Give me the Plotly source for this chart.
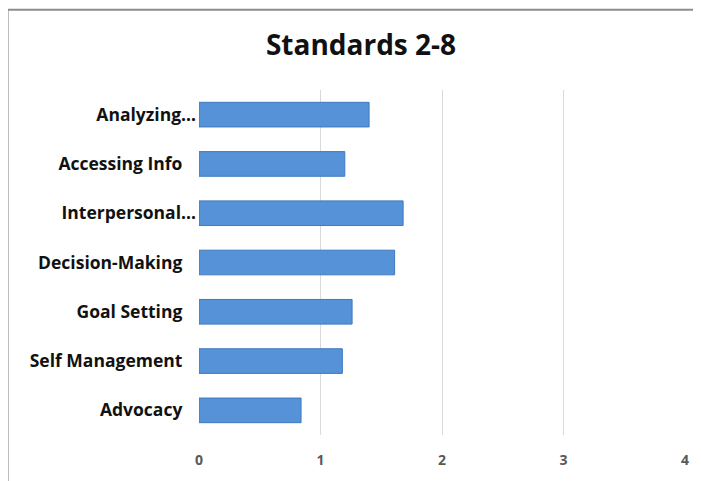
import plotly.graph_objects as go

categories = ["Analyzing...", "Accessing Info", "Interpersonal...", "Decision-Making",
              "Goal Setting", "Self Management", "Advocacy"]
tick_labels = ["Analyzing…", "Accessing Info\u00a0\u00a0\u00a0", "Interpersonal…", "Decision-Making\u00a0\u00a0\u00a0",
               "Goal Setting\u00a0\u00a0\u00a0", "Self Management\u00a0\u00a0\u00a0", "Advocacy\u00a0\u00a0\u00a0"]
values = [1.40, 1.20, 1.68, 1.61, 1.26, 1.18, 0.84]
x_ticks = [0, 1, 2, 3, 4]

# page body has an 8px margin; work in reference pixel coords shifted by it
OFF = 8
W, H = 701 - OFF, 481 - OFF
ML, MR, MT, MB = 199 - OFF, 12, 90 - OFF, 46 - OFF
pw, ph = W - ML - MR, H - MT - MB

def px_to_paper_x(px):
    return (px - OFF - ML) / pw

def px_to_paper_y(py):
    return (H - MB - (py - OFF)) / ph

fig = go.Figure()
fig.add_trace(go.Bar(
    y=categories, x=values, orientation="h",
    marker=dict(color="#5592D8", line=dict(color="#3F79BF", width=1)),
    width=0.5,
))

fig.update_layout(
    width=W, height=H,
    margin=dict(l=ML, r=MR, t=MT, b=MB),
    paper_bgcolor="white", plot_bgcolor="white",
    showlegend=False,
    title=dict(text="Standards 2-8", x=(361 - OFF) / W, xanchor="center", y=1 - (45 - OFF) / H,
               yanchor="middle",
               font=dict(family="Open Sans", size=28, color="#111111", weight="bold")),
    xaxis=dict(range=[0, 4], tickvals=x_ticks, showgrid=True, gridcolor="#D9D9D9", gridwidth=1,
               zeroline=False, showline=False, ticks="",
               tickfont=dict(family="Open Sans", size=14, color="#595959", weight="bold"),
               ticklabelstandoff=15),
    yaxis=dict(autorange="reversed", tickvals=categories, ticktext=tick_labels, showgrid=False,
               zeroline=False, showline=False, ticks="",
               tickfont=dict(family="Open Sans", size=17.5, color="#111111", weight="bold"),
               ticklabelstandoff=2),
    shapes=[
        dict(type="line", xref="paper", yref="paper",
             x0=px_to_paper_x(6), x1=px_to_paper_x(720), y0=px_to_paper_y(8), y1=px_to_paper_y(8),
             line=dict(color="#8C8C8C", width=2)),
        dict(type="line", xref="paper", yref="paper",
             x0=px_to_paper_x(6), x1=px_to_paper_x(6), y0=px_to_paper_y(8), y1=px_to_paper_y(500),
             line=dict(color="#8C8C8C", width=2)),
    ],
)

fig.write_html("out.html")
